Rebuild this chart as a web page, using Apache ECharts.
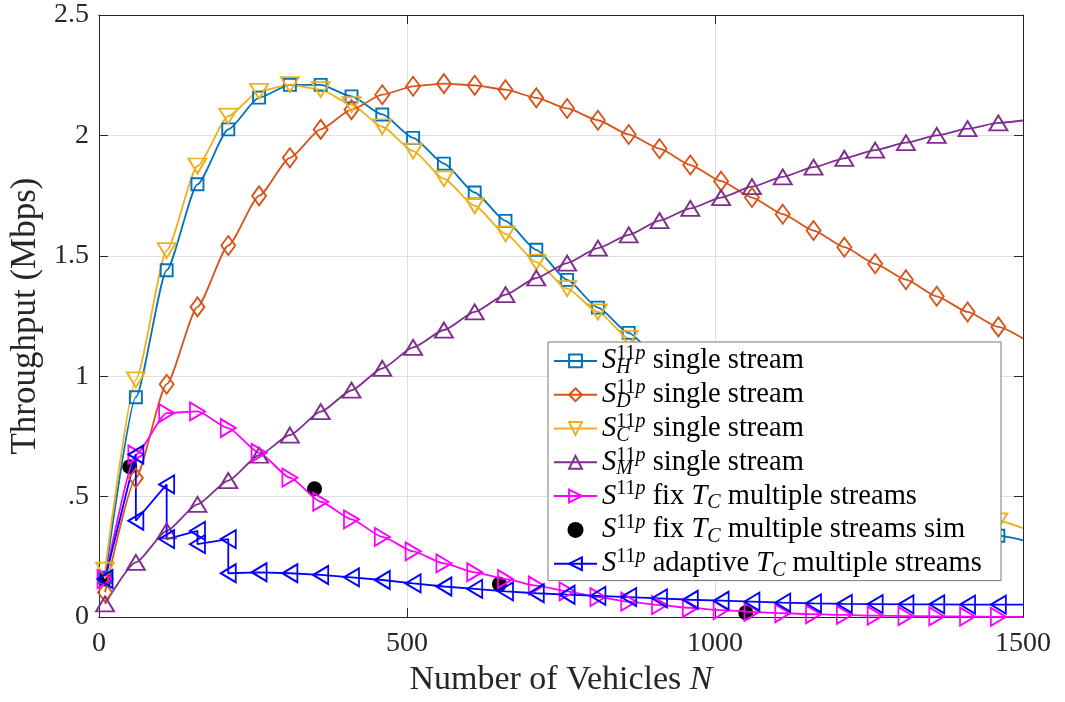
<!DOCTYPE html>
<html>
<head>
<meta charset="utf-8">
<script src="https://cdn.jsdelivr.net/npm/echarts@6/dist/echarts.min.js"></script>
<style>
  html, body { margin: 0; padding: 0; background: #fff; }
  #chart { width: 1065px; height: 702px; }
</style>
</head>
<body>
<div id="chart"></div>
<script>
// Number of vehicles at which each curve carries a marker
const nVehicles = [10, 60, 110, 160, 210, 260, 310, 360, 410, 460, 510, 560, 610, 660, 710,
                   760, 810, 860, 910, 960, 1010, 1060, 1110, 1160, 1210, 1260, 1310, 1360, 1410, 1460];
const nEnd = 1500;

// Single-stream throughput (Mbps)
const thrH = [0.165, 0.913, 1.44, 1.797, 2.025, 2.157, 2.21, 2.21, 2.162, 2.087, 1.99, 1.883, 1.763, 1.645, 1.525,
              1.40, 1.285, 1.18, 1.07, 0.965, 0.865, 0.775, 0.69, 0.615, 0.545, 0.49, 0.44, 0.40, 0.366, 0.338];
const thrHEnd = 0.319;
const thrD = [0.103, 0.578, 0.967, 1.288, 1.543, 1.749, 1.907, 2.025, 2.107, 2.169, 2.204, 2.215, 2.208, 2.19, 2.156,
              2.112, 2.063, 2.004, 1.945, 1.877, 1.81, 1.742, 1.673, 1.605, 1.536, 1.467, 1.401, 1.332, 1.267, 1.205];
const thrDEnd = 1.157;
const thrC = [0.195, 0.985, 1.522, 1.873, 2.08, 2.183, 2.211, 2.19, 2.128, 2.036, 1.935, 1.82, 1.708, 1.591, 1.474,
              1.364, 1.267, 1.157, 1.05, 0.95, 0.855, 0.77, 0.695, 0.63, 0.57, 0.52, 0.48, 0.45, 0.423, 0.40];
const thrCEnd = 0.369;
const thrM = [0.055, 0.227, 0.358, 0.468, 0.567, 0.672, 0.756, 0.853, 0.942, 1.033, 1.12, 1.192, 1.267, 1.339, 1.408,
              1.47, 1.532, 1.587, 1.646, 1.697, 1.742, 1.787, 1.828, 1.868, 1.905, 1.939, 1.97, 2.0, 2.028, 2.052];
const thrMEnd = 2.062;

// Multiple streams with fixed T_C
const thrFix = [0.158, 0.675, 0.847, 0.854, 0.785, 0.682, 0.579, 0.479, 0.406, 0.333, 0.273, 0.223, 0.186, 0.158, 0.131,
                0.107, 0.083, 0.064, 0.05, 0.038, 0.029, 0.022, 0.016, 0.012, 0.009, 0.006, 0.004, 0.003, 0.002, 0.001];
const thrFixEnd = 0.001;

// Simulation points for fixed T_C
const simN = [10, 50, 350, 650, 1050];
const simThr = [0.158, 0.624, 0.533, 0.137, 0.018];

// Multiple streams with adaptive T_C (two values at the switching points)
const adaptN = [10, 60, 60, 110, 110, 160, 160, 210, 210, 260, 310, 360, 410, 460, 510, 560, 610, 660, 710,
                760, 810, 860, 910, 960, 1010, 1060, 1110, 1160, 1210, 1260, 1310, 1360, 1410, 1460, 1500];
const adaptThr = [0.158, 0.675, 0.40, 0.551, 0.324, 0.358, 0.303, 0.324, 0.182, 0.186, 0.182, 0.175, 0.165, 0.154,
                  0.140, 0.127, 0.117, 0.107, 0.099, 0.093, 0.088, 0.083, 0.078, 0.072, 0.068, 0.064, 0.060, 0.057,
                  0.055, 0.054, 0.053, 0.053, 0.052, 0.052, 0.052];

const xTickLabels = ['0', '500', '1000', '1500'];
const yTickLabels = ['0', '.5', '1', '1.5', '2', '2.5'];

const seriesNames = ['S_H single stream', 'S_D single stream', 'S_C single stream', 'S_M single stream',
                     'S fix T_C multiple streams', 'S fix T_C multiple streams sim', 'S adaptive T_C multiple streams'];
const legendLabels = [
  '{s|S}{sub|H}{sup|11}{supi|p}{t| single stream}',
  '{s|S}{sub|D}{sup|11}{supi|p}{t| single stream}',
  '{s|S}{sub|C}{sup|11}{supi|p}{t| single stream}',
  '{s|S}{sub|M}{sup|11}{supi|p}{t| single stream}',
  '{s|S}{sup|11}{supi|p}{t| fix }{s|T}{subn|C}{t| multiple streams}',
  '{s|S}{sup|11}{supi|p}{t| fix }{s|T}{subn|C}{t| multiple streams sim}',
  '{s|S}{sup|11}{supi|p}{t| adaptive }{s|T}{subn|C}{t| multiple streams}'
];

const FONT = 'Liberation Serif';
const AX = '#262626';

const symUp = 'path://M5,0 L10,9 L0,9 Z';
const symDown = 'path://M0,0 L10,0 L5,9 Z';
const symRight = 'path://M0,0 L9,5 L0,10 Z';
const symLeft = 'path://M9,0 L0,5 L9,10 Z';
const symSquare = 'path://M0,0 L10,0 L10,10 L0,10 Z';
const symDiamond = 'path://M5,0 L10,7 L5,14 L0,7 Z';

function curve(values, endValue) {
  const pts = nVehicles.map((n, i) => [n, values[i]]);
  if (endValue != null) pts.push({ value: [nEnd, endValue], symbol: 'none' });
  return pts;
}

function lineSeries(name, color, symbol, size, data, smooth) {
  return {
    name, type: 'line', data, color,
    smooth: smooth, smoothMonotone: 'x',
    symbol, symbolSize: size, showAllSymbol: true,
    lineStyle: { color, width: 1.8 },
    itemStyle: { color: 'rgba(255,255,255,0)', borderColor: color, borderWidth: 1.9 },
    emphasis: { disabled: true },
    animation: false
  };
}

const adaptData = adaptN.map((n, i) => n === nEnd
  ? { value: [n, adaptThr[i]], symbol: 'none' }
  : [n, adaptThr[i]]);

const tickStyle = { inside: true, length: 9, lineStyle: { color: AX, width: 1 } };

const option = {
  animation: false,
  backgroundColor: '#fff',
  grid: { left: 97, right: 42, top: 15, bottom: 82 },
  xAxis: [
    {
      type: 'value', min: 0, max: 1500, interval: 500, position: 'bottom',
      axisLine: { show: true, onZero: false, lineStyle: { color: AX, width: 1 } },
      axisTick: tickStyle,
      axisLabel: {
        fontFamily: FONT, fontSize: 28, color: AX, margin: 13,
        formatter: v => xTickLabels[Math.round(v / 500)]
      },
      splitLine: { show: true, lineStyle: { color: '#dfdfdf', width: 1 } },
      name: 'Number of Vehicles {it|N}', nameLocation: 'middle', nameGap: 40,
      nameTextStyle: {
        fontFamily: FONT, fontSize: 34, color: AX,
        rich: { it: { fontFamily: FONT, fontSize: 34, fontStyle: 'italic', color: AX } }
      }
    },
    {
      type: 'value', min: 0, max: 1500, interval: 500, position: 'top',
      axisLine: { show: true, onZero: false, lineStyle: { color: AX, width: 1 } },
      axisTick: tickStyle, axisLabel: { show: false }, splitLine: { show: false }
    }
  ],
  yAxis: [
    {
      type: 'value', min: 0, max: 2.5, interval: 0.5, position: 'left',
      axisLine: { show: true, onZero: false, lineStyle: { color: AX, width: 1 } },
      axisTick: tickStyle,
      axisLabel: {
        fontFamily: FONT, fontSize: 28, color: AX, margin: 10,
        formatter: v => yTickLabels[Math.round(v / 0.5)]
      },
      splitLine: { show: true, lineStyle: { color: '#dfdfdf', width: 1 } },
      name: 'Throughput (Mbps)', nameLocation: 'middle', nameGap: 50, nameRotate: 90,
      nameTextStyle: { fontFamily: FONT, fontSize: 35, color: AX }
    },
    {
      type: 'value', min: 0, max: 2.5, interval: 0.5, position: 'right',
      axisLine: { show: true, onZero: false, lineStyle: { color: AX, width: 1 } },
      axisTick: tickStyle, axisLabel: { show: false }, splitLine: { show: false }
    }
  ],
  legend: {
    data: seriesNames,
    orient: 'vertical',
    left: 548, top: 342,
    padding: [2, 5, 0, 5],
    itemGap: 0,
    itemWidth: 43, itemHeight: 16,
    backgroundColor: '#fff',
    borderColor: '#7a7a7a', borderWidth: 1,
    selectedMode: false,
    formatter: name => legendLabels[seriesNames.indexOf(name)],
    textStyle: {
      fontFamily: FONT, fontSize: 28.5, color: '#000', lineHeight: 33.8, width: 394,
      rich: {
        s: { fontFamily: FONT, fontSize: 28.5, fontStyle: 'italic', color: '#000', lineHeight: 33.8 },
        t: { fontFamily: FONT, fontSize: 28.5, color: '#000', lineHeight: 33.8 },
        sup: { fontFamily: FONT, fontSize: 20, color: '#000', lineHeight: 12, verticalAlign: 'top' },
        supi: { fontFamily: FONT, fontSize: 20, fontStyle: 'italic', color: '#000', lineHeight: 12, verticalAlign: 'top' },
        sub: { fontFamily: FONT, fontSize: 20, fontStyle: 'italic', color: '#000', lineHeight: 19, verticalAlign: 'bottom', width: 0 },
        subn: { fontFamily: FONT, fontSize: 20, fontStyle: 'italic', color: '#000', lineHeight: 19, verticalAlign: 'bottom' }
      }
    }
  },
  series: [
    lineSeries(seriesNames[0], '#0072BD', symSquare, [12, 12], curve(thrH, thrHEnd), 0.2),
    lineSeries(seriesNames[1], '#D95319', symDiamond, [14, 19], curve(thrD, thrDEnd), 0.2),
    lineSeries(seriesNames[2], '#EDB120', symDown, [18, 15], curve(thrC, thrCEnd), 0.2),
    lineSeries(seriesNames[3], '#7E2F8E', symUp, [18, 15], curve(thrM, thrMEnd), 0.2),
    lineSeries(seriesNames[4], '#FF00FF', symRight, [15, 18], curve(thrFix, thrFixEnd), 0.2),
    {
      name: seriesNames[5], type: 'scatter', color: '#000',
      data: simN.map((n, i) => [n, simThr[i]]),
      symbol: 'circle', symbolSize: 15,
      itemStyle: { color: '#000', opacity: 1 },
      emphasis: { disabled: true }
    },
    lineSeries(seriesNames[6], '#0000FF', symLeft, [15, 18], adaptData, false)
  ]
};

const chart = echarts.init(document.getElementById('chart'), null, { renderer: 'canvas' });
chart.setOption(option);
</script>
</body>
</html>
